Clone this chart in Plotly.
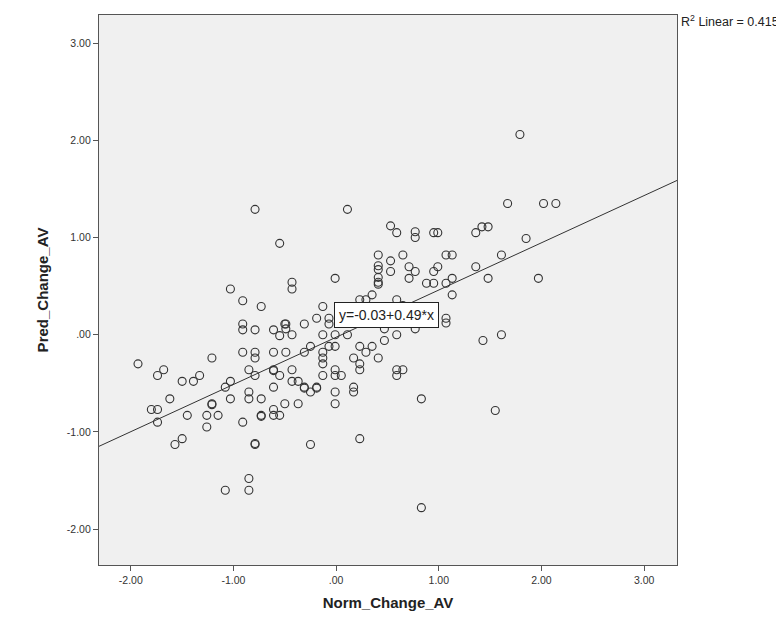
import plotly.graph_objects as go
import numpy as np

norm_change = [
    -0.79, -0.55, -1.03, -0.91, -0.73, -0.91, -0.91, -0.79, -0.61, -0.55, -0.50,
    0.11, 0.53, 0.59, 0.77, 0.77, 0.95, 0.99, 0.41, 0.41, 0.41, 0.53, 0.65, 0.53,
    0.71, 0.77, 0.71, 0.95, 0.99, 0.41, 0.41, 0.41, 0.88, 0.95, -0.43, -0.43, -0.01,
    0.35, 0.23, 0.29, 0.59, -0.13, -0.19, -0.07, -0.49, -0.49, -0.43, -0.31, -0.13,
    -0.01, 0.11, -0.07, 0.47, 0.59, 0.77, 0.47, 0.23, 0.35, -0.25, -0.07, -0.01,
    1.79, 1.67, 2.02, 2.14, 1.36, 1.42, 1.48, 1.85, 1.07, 1.13, 1.61, 1.36, 1.13,
    1.07, 1.48, 1.97, 1.13, 1.07, 1.07, 1.43, 1.61,
    -1.93, -1.68, -1.74, -1.50, -1.39, -1.33, -1.21, -1.62, -1.80, -1.74, -1.74,
    -1.45, -1.50, -1.57, -1.21, -1.21, -1.26, -1.15, -1.26, -1.08, -1.03, -1.03,
    -0.91, -0.79, -0.79, -0.85, -0.79, -0.85, -0.85, -0.73, -0.91, -0.73, -0.73,
    -0.61, -0.61, -0.61, -0.55, -0.61, -0.61, -0.61, -0.55, -0.50, -0.79, -0.79,
    -0.85, -0.85, -1.08, -0.49,
    -0.31, -0.13, -0.13, -0.13, 0.17, 0.23, 0.23, 0.29, 0.41, -0.43, -0.43, -0.37,
    -0.31, -0.31, -0.19, -0.19, -0.25, -0.13, -0.01, -0.01, 0.05, -0.01, -0.01,
    0.17, 0.17, 0.59, 0.59, 0.65, 0.83, -0.37, -0.25, 0.23, 0.83, 1.55,
    0.29, 0.41, 0.53, 0.65,
]
pred_change = [
    1.29, 0.94, 0.47, 0.35, 0.29, 0.11, 0.05, 0.05, 0.05, -0.01, 0.11,
    1.29, 1.12, 1.05, 1.06, 1.00, 1.05, 1.05, 0.82, 0.71, 0.67, 0.76, 0.82, 0.65,
    0.70, 0.65, 0.58, 0.65, 0.70, 0.59, 0.54, 0.52, 0.53, 0.53, 0.54, 0.47, 0.58,
    0.41, 0.36, 0.36, 0.36, 0.29, 0.17, 0.17, 0.11, 0.06, 0.00, 0.11, 0.00,
    0.00, 0.00, 0.11, 0.06, 0.00, 0.06, -0.06, -0.12, -0.12, -0.12, -0.12, -0.12,
    2.06, 1.35, 1.35, 1.35, 1.05, 1.11, 1.11, 0.99, 0.82, 0.82, 0.82, 0.70, 0.58,
    0.53, 0.58, 0.58, 0.41, 0.17, 0.12, -0.06, 0.00,
    -0.30, -0.36, -0.42, -0.48, -0.48, -0.42, -0.24, -0.66, -0.77, -0.77, -0.90,
    -0.83, -1.07, -1.13, -0.71, -0.72, -0.83, -0.83, -0.95, -0.54, -0.48, -0.66,
    -0.18, -0.18, -0.24, -0.36, -0.42, -0.59, -0.66, -0.66, -0.90, -0.83, -0.84,
    -0.18, -0.36, -0.37, -0.42, -0.54, -0.77, -0.83, -0.83, -0.71, -1.13, -1.12,
    -1.48, -1.60, -1.60, -0.18,
    -0.18, -0.18, -0.24, -0.30, -0.24, -0.30, -0.36, -0.18, -0.24, -0.36, -0.48, -0.48,
    -0.54, -0.55, -0.54, -0.55, -0.59, -0.42, -0.36, -0.42, -0.42, -0.59, -0.71,
    -0.54, -0.59, -0.36, -0.42, -0.36, -0.66, -0.71, -1.13, -1.07, -1.78, -0.78,
    0.18, 0.24, 0.12, 0.30,
]

x_tick_vals = [-2, -1, 0, 1, 2, 3]
x_tick_text = ["-2.00", "-1.00", ".00", "1.00", "2.00", "3.00"]
y_tick_vals = [-2, -1, 0, 1, 2, 3]
y_tick_text = ["-2.00", "-1.00", ".00", "1.00", "2.00", "3.00"]

# unrounded fit coefficients (label shows them rounded to 2 decimals)
fit_intercept = -0.026
fit_slope = 0.486
r2_text = "R<sup>2</sup> Linear = 0.415"
eq_text = "y=-0.03+0.49*x"

x_range = [-2.31, 3.32]
y_range = [-2.37, 3.29]

FONT = "Liberation Sans, Arial"

fig = go.Figure()
fig.add_trace(go.Scatter(
    x=norm_change, y=pred_change, mode="markers",
    marker=dict(symbol="circle-open", size=8, color="#333333", line=dict(width=1.1, color="#333333")),
    showlegend=False, hoverinfo="x+y"))

lx = np.array(x_range)
fig.add_trace(go.Scatter(
    x=lx, y=fit_intercept + fit_slope * lx, mode="lines",
    line=dict(color="#333333", width=1), showlegend=False, hoverinfo="skip"))

fig.add_annotation(x=0.49, y=0.205, xref="x", yref="y", text=eq_text, showarrow=False,
                   bgcolor="white", bordercolor="#222222", borderwidth=1, borderpad=4,
                   font=dict(family=FONT, size=14, color="#222222"))
fig.add_annotation(x=1.003, y=0.99, xref="paper", yref="paper", text=r2_text, showarrow=False,
                   xanchor="left", yanchor="middle",
                   font=dict(family=FONT, size=12.5, color="#222222"))

axis_common = dict(showgrid=False, zeroline=False, showline=True, mirror=True,
                   linecolor="#555555", linewidth=1.2, ticks="outside", ticklen=5,
                   tickcolor="#555555", tickfont=dict(family=FONT, size=10.5, color="#333333"))

fig.update_xaxes(range=x_range, tickvals=x_tick_vals, ticktext=x_tick_text,
                 title=dict(text="<b>Norm_Change_AV</b>", font=dict(family=FONT, size=15, color="#222222"), standoff=12),
                 **axis_common)
fig.update_yaxes(range=y_range, tickvals=y_tick_vals, ticktext=y_tick_text,
                 title=dict(text="<b>Pred_Change_AV</b>", font=dict(family=FONT, size=15, color="#222222"), standoff=14),
                 **axis_common)

fig.update_layout(width=776, height=615, paper_bgcolor="white", plot_bgcolor="#F0F0F0",
                  margin=dict(l=91, r=107, t=7, b=58), hovermode="closest")

fig.write_html("out.html")
